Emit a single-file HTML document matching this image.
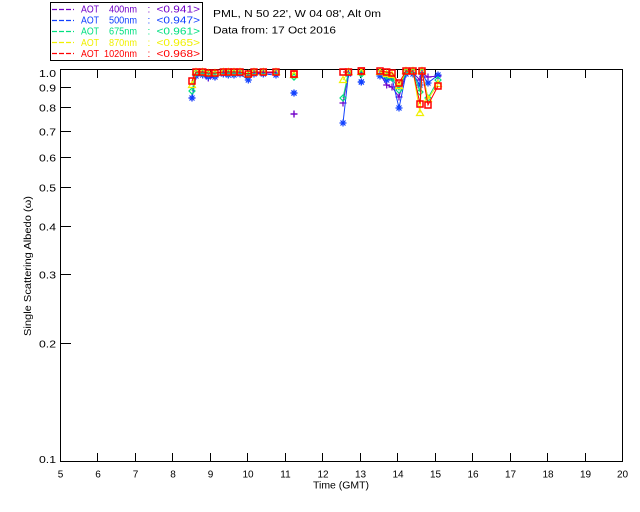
<!DOCTYPE html>
<html><head><meta charset="utf-8"><style>
html,body{margin:0;padding:0;background:#fff;}
svg{display:block;}
text{font-family:"Liberation Sans",sans-serif;font-size:10px;fill:#000;}
</style></head><body>
<svg width="640" height="512" viewBox="0 0 640 512" xmlns="http://www.w3.org/2000/svg">
<defs>
<marker id="mp" markerUnits="userSpaceOnUse" markerWidth="12" markerHeight="12" refX="6" refY="6" overflow="visible"><path d="M2.5 6H9.5M6 2.5V9.5" stroke="#7000c8" stroke-width="1.2" fill="none"/></marker>
<marker id="ms" markerUnits="userSpaceOnUse" markerWidth="12" markerHeight="12" refX="6" refY="6" overflow="visible"><path d="M2.5 6H9.5M6 2.5V9.5M3.5 3.5L8.5 8.5M8.5 3.5L3.5 8.5" stroke="#1040ff" stroke-width="1.2" fill="none"/></marker>
<marker id="md" markerUnits="userSpaceOnUse" markerWidth="12" markerHeight="12" refX="6" refY="6" overflow="visible"><path d="M6 3L9 6L6 9L3 6Z" stroke="#00e080" stroke-width="1.2" fill="none"/></marker>
<marker id="mt" markerUnits="userSpaceOnUse" markerWidth="12" markerHeight="12" refX="6" refY="6" overflow="visible"><path d="M6 2.5L9.5 8.5H2.5Z" stroke="#f0f000" stroke-width="1.2" fill="none"/></marker>
<marker id="mq" markerUnits="userSpaceOnUse" markerWidth="12" markerHeight="12" refX="6" refY="6" overflow="visible"><path d="M3 3H9V9H3Z" stroke="#ff0000" stroke-width="1.5" fill="none"/></marker>
</defs>

<!-- legend -->
<rect x="50.5" y="2.5" width="152" height="58" fill="none" stroke="#000" stroke-width="1"/>
<g stroke-width="1.2" stroke-dasharray="5,2">
<line x1="52" y1="9.5" x2="74" y2="9.5" stroke="#7000c8"/>
<line x1="52" y1="20.5" x2="74" y2="20.5" stroke="#1040ff"/>
<line x1="52" y1="31.5" x2="74" y2="31.5" stroke="#00e080"/>
<line x1="52" y1="42.5" x2="74" y2="42.5" stroke="#f0f000"/>
<line x1="52" y1="53.5" x2="74" y2="53.5" stroke="#ff0000"/>
</g>
<g><text x="81" y="12.7" textLength="18" lengthAdjust="spacingAndGlyphs" style="fill:#7000c8">AOT</text><text x="109" y="12.7" textLength="28" lengthAdjust="spacingAndGlyphs" style="fill:#7000c8">400nm</text><text x="147.5" y="12.7" style="fill:#7000c8">:</text><text x="156.5" y="12.7" textLength="43.5" lengthAdjust="spacingAndGlyphs" style="fill:#7000c8">&lt;0.941&gt;</text></g>
<g><text x="81" y="23.5" textLength="18" lengthAdjust="spacingAndGlyphs" style="fill:#1040ff">AOT</text><text x="109" y="23.5" textLength="28" lengthAdjust="spacingAndGlyphs" style="fill:#1040ff">500nm</text><text x="147.5" y="23.5" style="fill:#1040ff">:</text><text x="156.5" y="23.5" textLength="43.5" lengthAdjust="spacingAndGlyphs" style="fill:#1040ff">&lt;0.947&gt;</text></g>
<g><text x="81" y="34.7" textLength="18" lengthAdjust="spacingAndGlyphs" style="fill:#00e080">AOT</text><text x="109" y="34.7" textLength="28" lengthAdjust="spacingAndGlyphs" style="fill:#00e080">675nm</text><text x="147.5" y="34.7" style="fill:#00e080">:</text><text x="156.5" y="34.7" textLength="43.5" lengthAdjust="spacingAndGlyphs" style="fill:#00e080">&lt;0.961&gt;</text></g>
<g><text x="81" y="46" textLength="18" lengthAdjust="spacingAndGlyphs" style="fill:#f0f000">AOT</text><text x="109" y="46" textLength="28" lengthAdjust="spacingAndGlyphs" style="fill:#f0f000">870nm</text><text x="147.5" y="46" style="fill:#f0f000">:</text><text x="156.5" y="46" textLength="43.5" lengthAdjust="spacingAndGlyphs" style="fill:#f0f000">&lt;0.965&gt;</text></g>
<g><text x="81" y="56.8" textLength="18" lengthAdjust="spacingAndGlyphs" style="fill:#ff0000">AOT</text><text x="104" y="56.8" textLength="33" lengthAdjust="spacingAndGlyphs" style="fill:#ff0000">1020nm</text><text x="147.5" y="56.8" style="fill:#ff0000">:</text><text x="156.5" y="56.8" textLength="43.5" lengthAdjust="spacingAndGlyphs" style="fill:#ff0000">&lt;0.968&gt;</text></g>

<text x="213" y="17" textLength="168" lengthAdjust="spacingAndGlyphs">PML, N 50 22', W 04 08', Alt 0m</text>
<text x="213" y="33.5" textLength="123" lengthAdjust="spacingAndGlyphs">Data from: 17 Oct 2016</text>

<!-- axes -->
<g stroke="#000" stroke-width="1" fill="none" shape-rendering="crispEdges">
<rect x="60.5" y="69.5" width="562" height="392"/>
<path d="M61 87.5H71M61 107.5H71M61 131.5H71M61 157.5H71M61 187.5H71M61 226.5H71M61 274.5H71M61 343.5H71"/>
<path d="M97.5 461V453M135.5 461V453M172.5 461V453M210.5 461V453M247.5 461V453M285.5 461V453M322.5 461V453M360.5 461V453M397.5 461V453M435.5 461V453M472.5 461V453M510.5 461V453M547.5 461V453M585.5 461V453"/>
<path d="M97.5 70V78M135.5 70V78M172.5 70V78M210.5 70V78M247.5 70V78M285.5 70V78M322.5 70V78M360.5 70V78M397.5 70V78M435.5 70V78M472.5 70V78M510.5 70V78M547.5 70V78M585.5 70V78"/>
</g>

<g text-anchor="end">
<text x="56" y="77" textLength="17" lengthAdjust="spacingAndGlyphs">1.0</text>
<text x="56" y="91.5" textLength="17" lengthAdjust="spacingAndGlyphs">0.9</text>
<text x="56" y="111.5" textLength="17" lengthAdjust="spacingAndGlyphs">0.8</text>
<text x="56" y="135.5" textLength="17" lengthAdjust="spacingAndGlyphs">0.7</text>
<text x="56" y="161.5" textLength="17" lengthAdjust="spacingAndGlyphs">0.6</text>
<text x="56" y="191.5" textLength="17" lengthAdjust="spacingAndGlyphs">0.5</text>
<text x="56" y="230.5" textLength="17" lengthAdjust="spacingAndGlyphs">0.4</text>
<text x="56" y="278.5" textLength="17" lengthAdjust="spacingAndGlyphs">0.3</text>
<text x="56" y="347.5" textLength="17" lengthAdjust="spacingAndGlyphs">0.2</text>
<text x="56" y="463" textLength="17" lengthAdjust="spacingAndGlyphs">0.1</text>
</g>
<g text-anchor="middle">
<text x="60.5" y="477.5">5</text><text x="98" y="477.5">6</text><text x="135.5" y="477.5">7</text><text x="173" y="477.5">8</text><text x="210.5" y="477.5">9</text><text x="248" y="477.5">10</text><text x="285.5" y="477.5">11</text><text x="323" y="477.5">12</text><text x="360.5" y="477.5">13</text><text x="398" y="477.5">14</text><text x="435.5" y="477.5">15</text><text x="473" y="477.5">16</text><text x="510.5" y="477.5">17</text><text x="548" y="477.5">18</text><text x="585.5" y="477.5">19</text><text x="622.5" y="477.5">20</text>
<text x="341" y="488.5" textLength="56" lengthAdjust="spacingAndGlyphs">Time (GMT)</text>
<text transform="translate(31,266) rotate(-90)" x="0" y="0" textLength="140" lengthAdjust="spacingAndGlyphs">Single Scattering Albedo (ω)</text>
</g>

<!-- data -->
<g fill="none" stroke-width="1">
<g stroke="#7000c8" marker-start="url(#mp)" marker-mid="url(#mp)" marker-end="url(#mp)">
<polyline points="192,98 196,75 202.7,74 208.3,78 215,77 223.3,73 228.3,74 234,74 240,73 248.3,76 254,73 263.3,73 276,73"/>
<polyline points="294,114 294,114"/>
<polyline points="343,103 348.5,73"/>
<polyline points="361.3,73 361.3,73"/>
<polyline points="380,74 386.7,85 392,87 399,97 406,73 413,73 420,80 422,73 428,77 438,76"/>
</g>
<g stroke="#1040ff" marker-start="url(#ms)" marker-mid="url(#ms)" marker-end="url(#ms)">
<polyline points="192,98 196,76 202.7,75 208.3,77 215,77 223.3,74 228.3,75 234,75 240,74 248.3,80 254,74 263.3,74 276,75"/>
<polyline points="294,93 294,93"/>
<polyline points="343,123 348.5,74"/>
<polyline points="361.3,82 361.3,82"/>
<polyline points="380,76 386.7,80 392,78 399,108 406,74 413,74 420,85 422,74 428,83 438,75"/>
</g>
<g stroke="#00e080" marker-start="url(#md)" marker-mid="url(#md)" marker-end="url(#md)">
<polyline points="192,91 196,73 202.7,73 208.3,74 215,74 223.3,72 228.3,73 234,73 240,72 248.3,75 254,72 263.3,72 276,72"/>
<polyline points="294,77 294,77"/>
<polyline points="343,98 348.5,72"/>
<polyline points="361.3,74 361.3,74"/>
<polyline points="380,72 386.7,76 392,78 399,90 406,72 413,72 420,92 422,72 428,98 438,80"/>
</g>
<g stroke="#f0f000" marker-start="url(#mt)" marker-mid="url(#mt)" marker-end="url(#mt)">
<polyline points="192,85 196,72 202.7,72 208.3,73 215,73 223.3,72 228.3,72 234,72 240,72 248.3,74 254,72 263.3,72 276,72"/>
<polyline points="294,75 294,75"/>
<polyline points="343,80 348.5,72"/>
<polyline points="361.3,72 361.3,72"/>
<polyline points="380,72 386.7,74 392,75 399,86 406,71 413,71 420,113 422,71 428,99 438,84"/>
</g>
<g stroke="#ff0000" marker-start="url(#mq)" marker-mid="url(#mq)" marker-end="url(#mq)">
<polyline points="192,81 196,72 202.7,72 208.3,73 215,73 223.3,72 228.3,72 234,72 240,72 248.3,74 254,72 263.3,72 276,72"/>
<polyline points="294,74 294,74"/>
<polyline points="343,72 348.5,72"/>
<polyline points="361.3,71 361.3,71"/>
<polyline points="380,71 386.7,72 392,73 399,83 406,71 413,71 420,104 422,71 428,105 438,86"/>
</g>
</g>
</svg>
</body></html>
